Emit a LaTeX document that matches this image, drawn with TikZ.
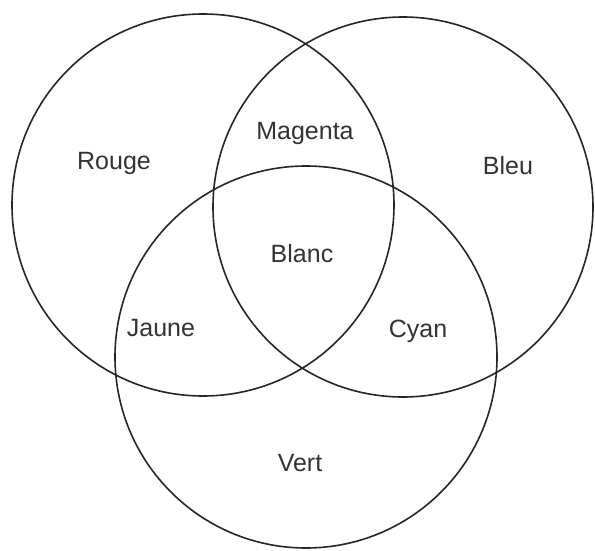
\documentclass[tikz,border=0pt]{standalone}
\usepackage{fontspec}
\setmainfont{Liberation Sans}
\begin{document}
\begin{tikzpicture}[x=1pt,y=-1pt,
  ring/.style={draw=black!85,line width=1.6pt},
  lbl/.style={text=black!80,font=\fontsize{25}{29}\selectfont,inner sep=0pt}]
\useasboundingbox[fill=white] (0,0) rectangle (595,551);
\draw[ring] (203,205) circle[radius=191];
\draw[ring] (403,207) circle[radius=190];
\draw[ring] (306,357) circle[radius=191];
\node[lbl] (rouge) at (114,163) {Rouge};
\node[lbl] (magenta) at (305,133) {Magenta};
\node[lbl] (bleu) at (508,166) {Bleu};
\node[lbl] (blanc) at (302,254) {Blanc};
\node[lbl] (jaune) at (161,328) {Jaune};
\node[lbl] (cyan) at (418,331) {Cyan};
\node[lbl] (vert) at (300,463) {Vert};
\end{tikzpicture}
\end{document}
